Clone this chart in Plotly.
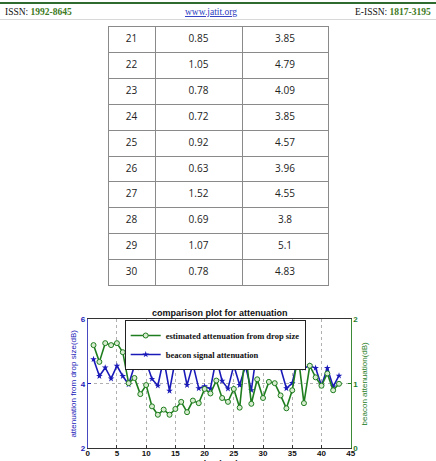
import plotly.graph_objects as go

W, H = 436, 461

# ---- data ----
time_sec = list(range(1, 44))
estimated_drop = [1.60, 1.34, 1.63, 1.60, 1.63, 1.49, 1.01, 1.09, 0.84, 0.98,
                  0.65, 0.52, 0.60, 0.52, 0.61, 0.72, 0.56, 0.74, 0.70, 0.92,
                  0.85, 1.05, 0.78, 0.72, 0.92, 0.63, 1.52, 0.69, 1.07, 0.78,
                  1.03, 1.01, 0.82, 0.62, 0.90, 1.45, 0.70, 1.28, 1.10, 0.97,
                  1.16, 0.90, 1.00]
beacon = [4.76, 4.24, 4.50, 4.16, 4.56, 4.24, 3.98, 4.56, 4.50, 4.68,
          4.15, 3.94, 4.78, 3.78, 4.76, 4.86, 3.96, 4.61, 3.86, 3.92,
          3.85, 4.79, 4.09, 3.85, 4.57, 3.96, 4.55, 3.80, 5.10, 4.83,
          5.22, 4.78, 4.49, 3.86, 4.02, 4.84, 4.49, 4.56, 4.49, 3.94,
          4.49, 3.91, 4.25]

table_time = ["21", "22", "23", "24", "25", "26", "27", "28", "29", "30"]
table_drop = ["0.85", "1.05", "0.78", "0.72", "0.92", "0.63", "1.52", "0.69", "1.07", "0.78"]
table_beacon = ["3.85", "4.79", "4.09", "3.85", "4.57", "3.96", "4.55", "3.8", "5.1", "4.83"]

x_ticks = [0, 5, 10, 15, 20, 25, 30, 35, 40, 45]

GREEN = "#1e7d1e"
BLUE = "#1a1ab8"


def px(x):
    return x / W


def py(y):
    return (H - y) / H


fig = go.Figure()

# ---- table (first row drawn as the header row, styled like the others) ----
cell_font = dict(family="Open Sans", size=10, color="#222")
cell_line = dict(color="#8a8a8a", width=1)
cols = [table_time, table_drop, table_beacon]
fig.add_trace(go.Table(
    domain=dict(x=[px(108), px(328.5)], y=[py(287), py(26.5)]),
    columnwidth=[47, 87, 86],
    header=dict(values=[c[0] for c in cols], height=25.9, align="center",
                line=cell_line, fill=dict(color="white"), font=cell_font),
    cells=dict(values=[c[1:] for c in cols],
               height=25.9, align="center",
               line=cell_line, fill=dict(color="white"), font=cell_font),
))

# ---- chart ----
fig.add_trace(go.Scatter(
    x=time_sec, y=estimated_drop, yaxis="y2", mode="lines+markers",
    name="estimated attenuation from drop size",
    line=dict(color=GREEN, width=1.6),
    marker=dict(symbol="circle", size=5, color="#d8ecd0", line=dict(color=GREEN, width=1)),
))
fig.add_trace(go.Scatter(
    x=time_sec, y=beacon, yaxis="y", mode="lines+markers",
    name="beacon signal attenuation",
    line=dict(color=BLUE, width=1.6),
    marker=dict(symbol="star", size=5, color=BLUE),
))

fig.update_layout(
    width=W, height=H, autosize=False,
    margin=dict(l=0, r=0, t=0, b=0, pad=0, autoexpand=False),
    paper_bgcolor="white", plot_bgcolor="white",
    showlegend=True,
    legend=dict(x=px(124.7), y=py(320), xanchor="left", yanchor="top",
                bgcolor="white", bordercolor="#222", borderwidth=1,
                font=dict(family="Liberation Serif", size=8.5, color="#111", weight="bold"),
                itemwidth=30, tracegroupgap=0),
    xaxis=dict(domain=[px(87.7), px(350.7)], anchor="y", range=[0, 45], automargin=False,
               tickvals=x_ticks, ticks="inside", ticklen=3, tickcolor="#333",
               ticklabelstandoff=-3,
               showline=True, linecolor="#333", linewidth=1, mirror=True,
               showgrid=True, gridcolor="#b0b0b0", griddash="dot", gridwidth=1,
               zeroline=False,
               tickfont=dict(family="Liberation Sans", size=8, color="#111", weight="bold")),
    yaxis=dict(domain=[py(448.3), py(319.3)], range=[2, 6], tickvals=[2, 4, 6], automargin=False,
               ticks="inside", ticklen=3, tickcolor=BLUE,
               showline=True, linecolor="#4848c0", linewidth=1,
               showgrid=True, gridcolor="#b0b0b0", griddash="dot", zeroline=False,
               tickfont=dict(family="Liberation Sans", size=8, color=BLUE, weight="bold"),
               title=dict(text="attenuation from drop size(dB)", standoff=2,
                          font=dict(family="Liberation Sans", size=8, color=BLUE))),
    yaxis2=dict(overlaying="y", side="right", anchor="x", range=[0, 2], tickvals=[0, 1, 2],
                automargin=False,
                ticks="inside", ticklen=3, tickcolor=GREEN,
                showline=True, linecolor="#3a8a3a", linewidth=1,
                showgrid=False, zeroline=False,
                tickfont=dict(family="Liberation Sans", size=8, color=GREEN, weight="bold"),
                title=dict(text="beacon attenuation(dB)", standoff=4,
                           font=dict(family="Liberation Sans", size=8, color=GREEN))),
    shapes=[
        dict(type="line", xref="paper", yref="paper", x0=0, x1=1, y0=py(3), y1=py(3),
             line=dict(color="#2f6b2f", width=2)),
        dict(type="line", xref="paper", yref="paper", x0=0, x1=1, y0=py(19.5), y1=py(19.5),
             line=dict(color="#d8d8d8", width=1)),
    ],
    annotations=[
        dict(text="comparison plot for attenuation", xref="paper", yref="paper",
             x=px(219.5), y=py(312.7), xanchor="center", yanchor="middle", showarrow=False,
             font=dict(family="Liberation Sans", size=9, color="#111", weight="bold")),
        dict(text="time(sec)", xref="paper", yref="paper",
             x=px(219.5), y=py(456.5), xanchor="center", yanchor="top", showarrow=False,
             font=dict(family="Liberation Sans", size=8.5, color="#111", weight="bold")),
        dict(text="ISSN: <span style='color:#3d7a22'><b>1992-8645</b></span>",
             xref="paper", yref="paper", x=px(3), y=py(12), xanchor="left", yanchor="middle",
             showarrow=False, font=dict(family="Liberation Serif", size=9.5, color="#111")),
        dict(text="<span style='text-decoration:underline'>www.jatit.org</span>",
             xref="paper", yref="paper", x=px(211), y=py(12), xanchor="center", yanchor="middle",
             showarrow=False, font=dict(family="Liberation Serif", size=9.5, color="#2b3cc0")),
        dict(text="E-ISSN: <span style='color:#3d7a22'><b>1817-3195</b></span>",
             xref="paper", yref="paper", x=px(433), y=py(12), xanchor="right", yanchor="middle",
             showarrow=False, font=dict(family="Liberation Serif", size=9.5, color="#111")),
    ],
)

fig.write_html("out.html")
